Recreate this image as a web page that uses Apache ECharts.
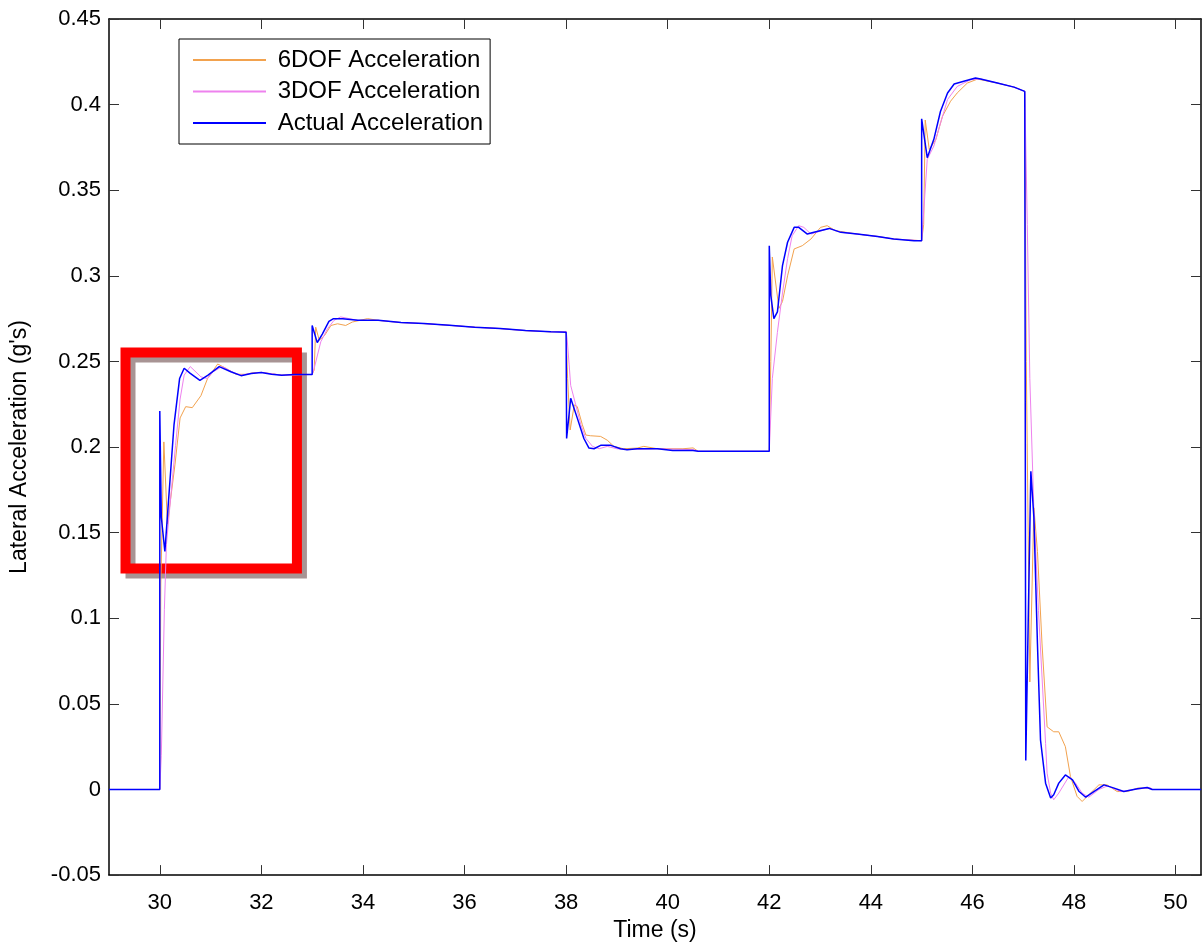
<!DOCTYPE html>
<html>
<head>
<meta charset="utf-8">
<script src="https://cdn.jsdelivr.net/npm/echarts@6/dist/echarts.min.js"></script>
<style>
html,body{margin:0;padding:0;background:#fff;}
#chart{width:1202px;height:947px;}
</style>
</head>
<body>
<div id="chart"></div>
<script>
// ---- data (time s, lateral acceleration g) ----
const seriesNames = ['6DOF Acceleration', '3DOF Acceleration', 'Actual Acceleration'];

const sixDofData = [
  [29,0],[30.0,0],[30.02,0.12],[30.08,0.203],[30.15,0.155],[30.3,0.19],[30.40,0.217],[30.51,0.2236],
  [30.64,0.223],[30.81,0.230],[30.94,0.240],[31.14,0.2485],[31.3,0.246],[31.5,0.2425],[31.7,0.2425],
  [31.85,0.2435],[32.0,0.2436],[32.4,0.242],[33.0,0.2424],[33.04,0.245],[33.07,0.270],[33.14,0.2624],
  [33.24,0.265],[33.37,0.271],[33.5,0.272],[33.66,0.271],[33.79,0.273],[34.09,0.275],[34.3,0.274],
  [34.75,0.2727],[35.2,0.2721],[35.7,0.2711],[36.2,0.270],[36.7,0.2692],[37.2,0.268],[37.7,0.2673],
  [38.0,0.2675],[38.03,0.24],[38.08,0.21],[38.16,0.2246],[38.22,0.2236],[38.32,0.213],[38.39,0.207],
  [38.48,0.2066],[38.68,0.2062],[38.81,0.204],[38.94,0.2004],[39.13,0.199],[39.4,0.1994],[39.53,0.2004],
  [39.8,0.199],[40.3,0.199],[40.5,0.1995],[40.6,0.1975],[42.0,0.1975],[42.03,0.25],[42.06,0.311],
  [42.19,0.281],[42.26,0.285],[42.36,0.300],[42.49,0.3157],[42.65,0.3176],[42.82,0.3215],[43.01,0.3283],
  [43.14,0.3293],[43.3,0.3264],[43.73,0.3244],[44.13,0.323],[44.45,0.3215],[45.0,0.3205],[45.04,0.33],
  [45.07,0.391],[45.15,0.3738],[45.28,0.3797],[45.41,0.3932],[45.57,0.402],[45.7,0.4068],[45.9,0.4126],
  [46.1,0.4149],[46.49,0.4126],[46.82,0.4102],[47.03,0.4077],[47.06,0.25],[47.13,0.0628],[47.21,0.1645],
  [47.28,0.139],[47.37,0.085],[47.47,0.0366],[47.6,0.0337],[47.7,0.0337],[47.83,0.025],[47.93,0.0076],
  [48.06,-0.004],[48.16,-0.007],[48.29,-0.0031],[48.49,0.0027],[48.65,0.0027],[48.85,-0.0012],
  [49.05,-0.0012],[49.25,0.0008],[49.44,0.0008],[49.55,0]
];

const threeDofData = [
  [29,0],[30.0,0],[30.03,0.02],[30.09,0.105],[30.13,0.143],[30.25,0.182],[30.31,0.201],[30.40,0.228],
  [30.48,0.242],[30.6,0.247],[30.81,0.241],[30.94,0.240],[31.05,0.244],[31.23,0.247],[31.45,0.2435],
  [31.6,0.242],[31.8,0.243],[32.0,0.2436],[32.4,0.242],[33.0,0.2424],[33.04,0.246],[33.17,0.2615],
  [33.3,0.269],[33.43,0.274],[33.56,0.276],[33.9,0.274],[34.3,0.274],[34.75,0.2727],[35.2,0.2721],
  [35.7,0.2711],[36.2,0.270],[36.7,0.2692],[37.2,0.268],[37.7,0.2673],[38.0,0.2675],[38.02,0.263],
  [38.06,0.248],[38.09,0.236],[38.19,0.2246],[38.29,0.213],[38.39,0.205],[38.52,0.2004],[38.65,0.199],
  [38.81,0.2004],[39.0,0.199],[39.2,0.1985],[39.8,0.199],[40.5,0.1985],[40.6,0.1975],[42.0,0.1975],
  [42.06,0.24],[42.16,0.267],[42.26,0.29],[42.36,0.31],[42.45,0.3234],[42.58,0.3293],[42.68,0.3283],
  [42.82,0.3244],[43.18,0.3277],[43.41,0.3254],[43.73,0.3244],[44.13,0.323],[44.45,0.3215],[45.0,0.3205],
  [45.03,0.333],[45.11,0.368],[45.24,0.3758],[45.37,0.389],[45.51,0.403],[45.7,0.4106],[45.96,0.4145],
  [46.16,0.415],[46.49,0.4126],[46.82,0.4102],[47.03,0.4077],[47.08,0.33],[47.13,0.240],[47.21,0.1626],
  [47.3,0.1045],[47.37,0.0657],[47.44,0.0269],[47.47,0.0095],[47.54,-0.0021],[47.6,-0.006],[47.7,-0.0021],
  [47.9,0.0076],[48.03,0.0037],[48.16,-0.0021],[48.29,-0.0045],[48.49,0],[48.66,0.0021],[48.92,-0.0012],
  [49.25,0.0003],[49.5,0.001],[49.55,0]
];

const actualData = [
  [29,0],[30.0,0],[30.0,0.221],[30.03,0.159],[30.1,0.139],[30.18,0.172],[30.28,0.213],[30.39,0.240],
  [30.48,0.246],[30.6,0.243],[30.79,0.239],[30.95,0.242],[31.17,0.247],[31.4,0.244],[31.6,0.2417],
  [31.8,0.243],[32.0,0.2436],[32.2,0.2425],[32.4,0.242],[32.65,0.2424],[33.0,0.2424],[33.0,0.271],
  [33.1,0.261],[33.2,0.266],[33.33,0.2734],[33.42,0.275],[33.6,0.275],[33.9,0.274],[34.3,0.274],
  [34.75,0.2727],[35.2,0.2721],[35.7,0.2711],[36.2,0.270],[36.7,0.2692],[37.2,0.268],[37.7,0.2673],
  [38.0,0.267],[38.01,0.205],[38.09,0.2285],[38.22,0.2169],[38.35,0.205],[38.45,0.1994],[38.55,0.199],
  [38.68,0.201],[38.88,0.201],[39.07,0.199],[39.2,0.1984],[39.4,0.199],[39.8,0.199],[40.1,0.198],
  [40.5,0.198],[40.6,0.1975],[41.5,0.1975],[42.0,0.1975],[42.0,0.3176],[42.03,0.2886],[42.09,0.275],
  [42.16,0.2789],[42.26,0.306],[42.36,0.3196],[42.49,0.3283],[42.58,0.3283],[42.75,0.3244],[42.88,0.3254],
  [43.18,0.3277],[43.41,0.3254],[43.73,0.3244],[44.13,0.323],[44.45,0.3215],[44.85,0.3205],[45.0,0.3205],
  [45.0,0.3917],[45.11,0.369],[45.24,0.3797],[45.37,0.396],[45.51,0.4068],[45.64,0.412],[45.83,0.4136],
  [46.06,0.4155],[46.16,0.415],[46.49,0.4126],[46.82,0.4102],[47.03,0.4077],[47.05,0.0169],[47.15,0.1859],
  [47.21,0.1587],[47.28,0.085],[47.34,0.0289],[47.44,0.0037],[47.54,-0.005],[47.6,-0.0031],[47.7,0.0037],
  [47.83,0.0085],[47.97,0.0056],[48.1,-0.0012],[48.23,-0.0045],[48.39,-0.0012],[48.59,0.0027],
  [48.79,0.0008],[48.98,-0.0012],[49.25,0.0004],[49.44,0.0012],[49.54,0],[50.5,0]
];

// highlight box corners [time, g]
const highlightBox = [[29.325, 0.2552], [32.70, 0.129]];

const xTicks = [30, 32, 34, 36, 38, 40, 42, 44, 46, 48, 50];
const yTicks = [-0.05, 0, 0.05, 0.1, 0.15, 0.2, 0.25, 0.3, 0.35, 0.4, 0.45];
const yTickLabels = ['-0.05', '0', '0.05', '0.1', '0.15', '0.2', '0.25', '0.3', '0.35', '0.4', '0.45'];

// ---- chart ----
const FONT = 'Liberation Sans, Arial, sans-serif';
const chart = echarts.init(document.getElementById('chart'), null, {renderer: 'canvas'});

function xAxisCfg(pos, showLabels) {
  return {
    type: 'value', position: pos, min: 29, max: 50.5,
    name: showLabels ? 'Time (s)' : '', nameLocation: 'middle', nameGap: 43,
    nameTextStyle: {fontFamily: FONT, fontSize: 23, color: '#000'},
    axisLine: {show: true, onZero: false, lineStyle: {color: '#000', width: 1.5}},
    axisTick: {show: true, inside: true, length: 10, customValues: xTicks, lineStyle: {color: '#333'}},
    axisLabel: {show: showLabels, customValues: xTicks, margin: 17, fontFamily: FONT, fontSize: 22, color: '#000',
      formatter: v => String(v)},
    splitLine: {show: false}
  };
}
function yAxisCfg(pos, showLabels) {
  return {
    type: 'value', position: pos, min: -0.05, max: 0.45,
    name: showLabels ? "Lateral Acceleration (g's)" : '', nameLocation: 'middle', nameGap: 78,
    nameTextStyle: {fontFamily: FONT, fontSize: 23, color: '#000'},
    axisLine: {show: true, onZero: false, lineStyle: {color: '#000', width: 1.5}},
    axisTick: {show: true, inside: true, length: 10, customValues: yTicks, lineStyle: {color: '#333'}},
    axisLabel: {show: showLabels, customValues: yTicks, margin: 8, fontFamily: FONT, fontSize: 22, color: '#000',
      formatter: v => {
        const i = yTicks.findIndex(t => Math.abs(t - v) < 1e-9);
        return i >= 0 ? yTickLabels[i] : '';
      }},
    splitLine: {show: false}
  };
}

const option = {
  animation: false,
  backgroundColor: '#fff',
  grid: {left: 109, right: 1, top: 19, bottom: 68, containLabel: false},
  xAxis: [xAxisCfg('bottom', true), xAxisCfg('top', false)],
  yAxis: [yAxisCfg('left', true), yAxisCfg('right', false)],
  legend: {
    data: seriesNames, orient: 'vertical', left: 179, top: 39,
    padding: [9, 7, 9, 13], itemGap: 7.5, itemWidth: 73, itemHeight: 14,
    backgroundColor: '#fff', borderColor: '#000', borderWidth: 1, borderRadius: 0,
    itemStyle: {opacity: 0},
    formatter: n => ' ' + n,
    textStyle: {fontFamily: FONT, fontSize: 24, color: '#000'}
  },
  series: [
    {name: seriesNames[0], type: 'line', data: sixDofData, showSymbol: false, symbol: 'none',
      lineStyle: {color: '#F2A24E', width: 1}, itemStyle: {color: '#F2A24E', opacity: 0}, z: 2},
    {name: seriesNames[1], type: 'line', data: threeDofData, showSymbol: false, symbol: 'none',
      lineStyle: {color: '#EE82EE', width: 1}, itemStyle: {color: '#EE82EE', opacity: 0}, z: 3},
    {name: seriesNames[2], type: 'line', data: actualData, showSymbol: false, symbol: 'none',
      lineStyle: {color: '#0000FF', width: 1.5}, itemStyle: {color: '#0000FF', opacity: 0}, z: 4},
    {name: 'highlight', type: 'line', data: [], z: 10, silent: true,
      markArea: {
        silent: true,
        itemStyle: {color: 'rgba(0,0,0,0)', borderColor: '#FF0000', borderWidth: 10, opacity: 1,
          shadowColor: '#A89494', shadowOffsetX: 5, shadowOffsetY: 5, shadowBlur: 0},
        data: [[{coord: highlightBox[0]}, {coord: highlightBox[1]}]]
      }}
  ]
};
chart.setOption(option);
</script>
</body>
</html>
